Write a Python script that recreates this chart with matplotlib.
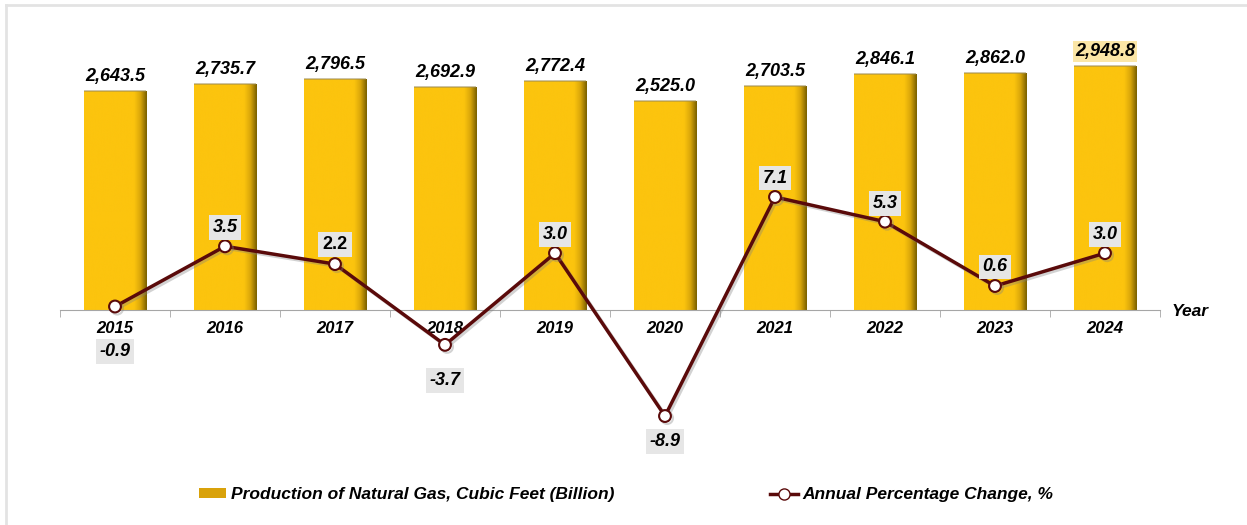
import matplotlib
matplotlib.use("Agg")
import matplotlib.pyplot as plt
import matplotlib.patheffects as pe
from matplotlib.colors import LinearSegmentedColormap
from matplotlib.lines import Line2D
from matplotlib.patches import Patch
import numpy as np

plt.rcParams['font.family'] = ['Liberation Sans', 'DejaVu Sans']

years = ["2015", "2016", "2017", "2018", "2019", "2020", "2021", "2022", "2023", "2024"]
production = [2643.5, 2735.7, 2796.5, 2692.9, 2772.4, 2525.0, 2703.5, 2846.1, 2862.0, 2948.8]
pct_change = [-0.9, 3.5, 2.2, -3.7, 3.0, -8.9, 7.1, 5.3, 0.6, 3.0]

# label offsets for the % labels, in pixels (up is positive)
pct_offsets = [-45, 19, 20, -36, 19, -25, 19, 18, 19, 19]

bar_yellow = "#FCC40E"
line_col = "#5A0A0A"

fig = plt.figure(figsize=(12.47, 5.25), dpi=100)
ax = fig.add_axes([60/1247, 215/525, 1100/1247, 270/525])
ax2 = ax.twinx()

x = np.arange(len(years))

# bars with a darker shading on the right edge
cmap = LinearSegmentedColormap.from_list(
    "gold", [(0, bar_yellow), (0.80, bar_yellow), (0.90, "#D9A60A"), (1.0, "#7A6000")])
grad = np.linspace(0, 1, 200).reshape(1, -1)
bars = ax.bar(x, production, width=0.57, color="none", edgecolor="none", zorder=2)
for b in bars:
    x0, w, h = b.get_x(), b.get_width(), b.get_height()
    im = ax.imshow(grad, cmap=cmap, aspect="auto", extent=(x0, x0 + w, 0, h),
                   zorder=2, interpolation="bicubic")
    im.set_clip_path(b)
    # thin shadow along the top
    ax.plot([x0, x0 + w], [h, h], color="#9C8A50", lw=1.2, alpha=0.6, zorder=3,
            solid_capstyle="butt")

for i, v in enumerate(production):
    last = i == len(production) - 1
    ax.annotate(f"{v:,.1f}", (x[i], v), xytext=(0, 6), textcoords="offset pixels",
                ha="center", va="bottom", fontsize=13, fontweight="bold", style="italic",
                bbox=dict(boxstyle="square,pad=0.12", fc="#FBE6A6", ec="none") if last else None,
                zorder=5)

ax.set_xlim(-0.5, len(years) - 0.5)
ax.set_ylim(0, 3263)
ax2.set_ylim(-1.154, 18.57)

# line with a soft shadow
shadow = [pe.SimpleLineShadow(offset=(1.5, -1.5), shadow_color="gray", alpha=0.35), pe.Normal()]
ax2.plot(x, pct_change, color=line_col, lw=2.5, marker="o", markersize=8.5,
         markerfacecolor="white", markeredgecolor=line_col, markeredgewidth=1.5,
         clip_on=False, zorder=4, path_effects=shadow)

for i, v in enumerate(pct_change):
    off = pct_offsets[i]
    ax2.annotate(f"{v:.1f}", (x[i], v), xytext=(0, off), textcoords="offset pixels",
                 ha="center", va="center", fontsize=13, fontweight="bold",
                 style="normal" if years[i] == "2017" else "italic",
                 bbox=dict(boxstyle="square,pad=0.22", fc="#E6E6E6", ec="none"),
                 annotation_clip=False, zorder=6)

for a in (ax, ax2):
    for s in ("top", "right", "left"):
        a.spines[s].set_visible(False)
    a.set_yticks([])
ax.spines["bottom"].set_color("#A6A6A6")
ax2.spines["bottom"].set_visible(False)
ax.set_xticks(x)
ax.set_xticklabels(years, fontsize=12, fontweight="bold", style="italic")
ax.tick_params(axis="x", which="major", length=0, pad=8)
ax.set_xticks(np.arange(-0.5, len(years)), minor=True)
ax.tick_params(axis="x", which="minor", length=5, color="#A6A6A6", direction="out")

fig.text(1172/1247, 1 - 312/525, "Year", fontsize=12.5, fontweight="bold", style="italic",
         ha="left", va="center")

handles = [Patch(facecolor="#D9A20A", edgecolor="none"),
           Line2D([0], [0], color=line_col, lw=2.5, marker="o", markersize=8,
                  markerfacecolor="white", markeredgecolor=line_col)]
fig.legend(handles, ["Production of Natural Gas, Cubic Feet (Billion)",
                     "Annual Percentage Change, %"],
           loc="center", bbox_to_anchor=(0.502, 1 - 495/525), ncol=2, frameon=False,
           prop=dict(size=12.5, weight="bold", style="italic"),
           handlelength=1.6, handleheight=0.5, handletextpad=0.25, columnspacing=9.0)

# light frame on the left and top
fig.add_artist(Line2D([6/1247, 6/1247], [0, 1 - 5/525], color="#E3E3E3", lw=2))
fig.add_artist(Line2D([6/1247, 1], [1 - 5/525, 1 - 5/525], color="#E3E3E3", lw=2))

fig.savefig("out.png", dpi=100)
